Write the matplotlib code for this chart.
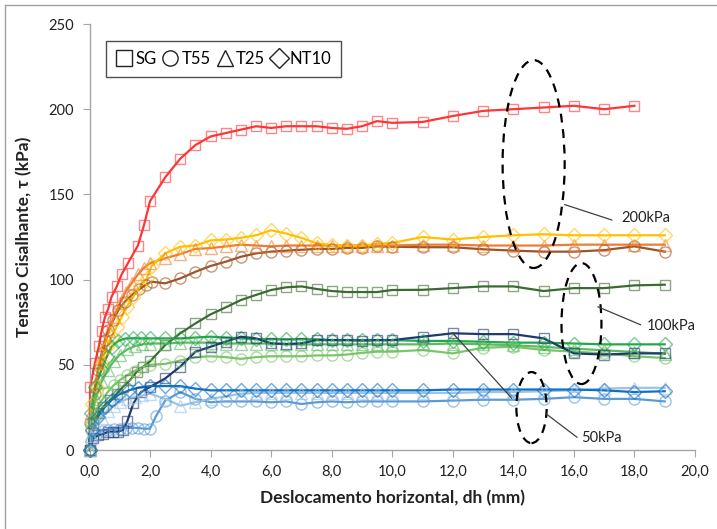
import matplotlib
matplotlib.use("Agg")
import matplotlib.pyplot as plt
from matplotlib.patches import Ellipse
from matplotlib.lines import Line2D
import numpy as np

plt.rcParams['font.family'] = ['Lato', 'DejaVu Sans']

# ---------------- data ----------------
late_x = [2.5, 3.0, 3.5, 4.0, 4.5, 5.0, 5.5, 6.0, 6.5, 7.0, 7.5, 8.0, 8.5, 9.0, 9.5,
          10, 11, 12, 13, 14, 15, 16, 17, 18, 19]

# 200 kPa
sg200_x = [0, 0.02, 0.18, 0.31, 0.4, 0.51, 0.62, 0.73, 0.9, 1.06, 1.28, 1.6, 1.8, 2.0, 2.5, 3.0,
           3.5, 4.0, 4.5, 5.0, 5.5, 6.0, 6.5, 7.0, 7.5, 8.0, 8.5, 9.0, 9.5, 10, 11, 12, 13, 14,
           15, 16, 17, 18]
sg200_y = [0, 37, 51, 61, 70, 78, 83, 90, 96, 103, 110, 120, 132, 146, 160, 171,
           179, 184, 186, 188, 190, 189, 190, 190, 190, 189, 188.5, 190, 193, 192, 192.5, 196, 199, 200,
           201, 202, 200, 202]

t55_200_x = [0, 0.02, 0.18, 0.29, 0.4, 0.51, 0.62, 0.79, 0.95, 1.17, 1.4, 1.64, 1.85, 2.05] + late_x
t55_200_y = [0, 16, 33, 47, 56.7, 64.5, 70.4, 76.3, 82, 87, 91, 94.3, 96.8, 98.8,
             97.8, 100.7, 104.6, 108, 110.5, 113.4, 115.4, 116.4, 117, 117.5, 118, 118, 118.6, 118.6, 119.5,
             119.3, 119, 119, 117.8, 117, 116.4, 116.4, 117.3, 119.5, 116.4]

t25_200_x = [0, 0.05, 0.2, 0.35, 0.5, 0.65, 0.8, 1.0, 1.2, 1.4, 1.6, 1.8, 2.0] + late_x
t25_200_y = [0, 22, 40, 52, 62, 70, 78, 86, 93, 98, 103, 107, 109.6,
             112.5, 115, 118, 118.5, 119.5, 120.5, 120, 119.5, 120, 120, 120, 120, 120, 120, 120,
             120, 120.5, 120.5, 120, 120, 120, 120.5, 120.5, 120.5, 120.5]

nt10_200_x = [0, 0.07, 0.24, 0.4, 0.57, 0.73, 0.9, 1.06, 1.23, 1.45, 1.67, 1.89, 2.05] + late_x
nt10_200_y = [0, 27, 37, 51, 60.6, 66.5, 72.4, 78, 84, 90, 96, 100.7, 108,
              115.4, 119.3, 120, 123, 123.5, 124.5, 126, 129, 127, 124.5, 121.3, 120.3, 120, 120, 121,
              121.5, 125, 123.5, 125, 126, 126.6, 126, 126, 126, 126]

# 100 kPa
sg100_x = [0, 0.13, 0.29, 0.46, 0.68, 0.9, 1.1, 1.34, 1.56, 1.78, 2.0] + late_x
sg100_y = [0, 15.6, 21.5, 25.4, 29.3, 33, 37, 41, 46, 48.9, 52,
           61.6, 68.5, 74.3, 79.6, 83.7, 88, 91, 93.9, 95.5, 96, 94.5, 93.3, 92.7, 92.7, 92.7,
           93.9, 94, 95, 96, 96, 93.3, 95, 95, 96.6, 97]

nt10_100_x = [0, 0.05, 0.18, 0.4, 0.57, 0.73, 0.95, 1.17, 1.45, 1.7, 2.0] + late_x
nt10_100_y = [0, 22, 37, 47, 54.8, 60.6, 64, 65.4, 65.6, 65.5, 65.5,
              65.5, 65.5, 66, 66.5, 66, 65.5, 65, 65, 65, 65, 65, 64.5, 64.5, 64.5, 64.5,
              64.5, 64, 64, 63.5, 63, 63, 62.5, 62, 62, 62]

t25_100_x = [0, 0.05, 0.2, 0.4, 0.6, 0.8, 1.0, 1.25, 1.5, 1.75, 2.0] + late_x
t25_100_y = [0, 18, 30, 40, 47, 52, 56, 59, 61, 62, 62.5,
             62.5, 63, 63, 63, 62.5, 62.5, 62.5, 62.5, 62, 62, 62, 62, 62, 62, 62,
             62, 62, 62.5, 62, 61.5, 60.5, 59.5, 58.5, 57.5, 56.5]

t55_100_x = [0, 0.05, 0.2, 0.4, 0.6, 0.8, 1.0, 1.25, 1.5, 1.75, 2.0] + late_x
t55_100_y = [0, 12, 22, 29, 34, 38, 41, 44, 46.5, 48.5, 50,
             50.5, 52.5, 54.5, 55, 54.5, 53.5, 54.5, 55, 55, 55, 55.5, 55.5, 56, 57, 57.7,
             57.7, 58.7, 56.7, 60, 60.6, 58.7, 57.7, 56.7, 55, 54]

# 50 kPa
sg50_x = [0, 0.13, 0.29, 0.46, 0.62, 0.79, 0.95, 1.1, 1.25, 1.45, 1.7, 2.0] + late_x
sg50_y = [0, 6.8, 8.8, 9.4, 10.8, 10.8, 10.8, 11.7, 17, 27.4, 34, 37,
          42, 49, 57.7, 60.6, 63.6, 66.5, 65.5, 62.6, 62.2, 62.6, 64.5, 64.5, 64.5, 64.2, 64.5,
          64.5, 66.5, 68.5, 68, 68, 65.5, 56.7, 56, 56.7, 56.7]

nt10_50_x = [0, 0.07, 0.29, 0.5, 0.73, 0.95, 1.3, 1.6, 2.0] + late_x
nt10_50_y = [0, 11.7, 19.6, 25, 29.3, 32.3, 35, 36.5, 37.5,
             37.5, 37.5, 36, 35, 35, 35, 35, 35, 35, 35, 35, 35, 35, 35, 35,
             35, 35, 35.5, 35.5, 35.5, 35.5, 35.5, 35, 34, 34.5]

t25_50_x = [0, 0.05, 0.2, 0.4, 0.6, 0.8, 1.0, 1.25, 1.5, 1.75, 2.0] + late_x
t25_50_y = [0, 8, 14, 19, 23, 26, 28, 30, 31, 32, 33,
            30, 26, 28, 30, 31.5, 33, 33.5, 33.5, 33.5, 33.5, 33.5, 33.5, 33.5, 33.5, 33.5,
            33.5, 33.5, 33.5, 34, 34, 34.5, 35, 36, 36.5, 36.5]

t55_50_x = [0, 0.05, 0.2, 0.4, 0.6, 0.8, 1.0, 1.2, 1.4, 1.6, 1.8, 2.0, 2.2] + late_x
t55_50_y = [0, 5, 9, 11, 12, 12.5, 12.5, 13, 13, 13, 12.5, 12.5, 20,
            29, 34, 30, 28, 28.5, 28.5, 28.5, 28, 28.5, 27, 28, 28.5, 28, 28.5, 28.5,
            28.5, 28.5, 29, 29.5, 29.5, 30, 31, 30, 30, 28.5]

series = [
    (sg200_x, sg200_y, '#FF3535', 's'),
    (t55_200_x, t55_200_y, '#9E5428', 'o'),
    (t25_200_x, t25_200_y, '#EE7D33', '^'),
    (nt10_200_x, nt10_200_y, '#FFC000', 'D'),
    (sg100_x, sg100_y, '#3C6B32', 's'),
    (t55_100_x, t55_100_y, '#7CC46A', 'o'),
    (t25_100_x, t25_100_y, '#5DBB63', '^'),
    (nt10_100_x, nt10_100_y, '#22A84B', 'D'),
    (sg50_x, sg50_y, '#1F3A70', 's'),
    (t55_50_x, t55_50_y, '#5B9BD5', 'o'),
    (t25_50_x, t25_50_y, '#9DC3E6', '^'),
    (nt10_50_x, nt10_50_y, '#1070C4', 'D'),
]

legend_labels = ['SG', 'T55', 'T25', 'NT10']
legend_markers = ['s', 'o', '^', 'D']

# ---------------- figure ----------------
fig = plt.figure(figsize=(7.17, 5.29), dpi=100)
ax = fig.add_axes([89.5 / 717, 79 / 529, (695 - 89.5) / 717, (450 - 24) / 529])

msize = {'s': 7.5, 'o': 8, '^': 8, 'D': 7}
for xs, ys, c, m in series:
    ax.plot(xs, ys, color=c, lw=1.6, zorder=2, clip_on=False)
    ax.plot(xs, ys, ls='none', marker=m, ms=msize[m], mfc='none', mec=c, mew=1.0,
            alpha=0.6, zorder=3, clip_on=False)

ax.set_xlim(0, 20)
ax.set_ylim(0, 250)
ax.set_xticks(np.arange(0, 21, 2))
ax.set_xticklabels([f"{v:.1f}".replace('.', ',') for v in np.arange(0, 21, 2)])
ax.set_yticks(np.arange(0, 251, 50))
for s in ['top', 'right']:
    ax.spines[s].set_visible(False)
for s in ['left', 'bottom']:
    ax.spines[s].set_color('#A6A6A6')
    ax.spines[s].set_linewidth(1.0)
ax.tick_params(axis='both', direction='out', length=5, color='#A6A6A6', labelsize=10.5,
               labelcolor='#222222', pad=6)

ax.set_xlabel('Deslocamento horizontal, dh (mm)', fontsize=12.5, fontweight='bold',
              color='#222222', labelpad=8)
ax.set_ylabel('Tensão Cisalhante, τ (kPa)', fontsize=12.5, fontweight='bold',
              color='#222222', labelpad=12)

# ellipses and annotations
ell_kw = dict(fill=False, ls=(0, (4, 3)), lw=1.6, edgecolor='black', zorder=5)
ax.add_patch(Ellipse((14.67, 167.8), 2.05, 122, **ell_kw))
ax.add_patch(Ellipse((16.25, 74.2), 1.32, 71, **ell_kw))
ax.add_patch(Ellipse((14.6, 24.9), 1.0, 41.7, **ell_kw))

line_kw = dict(color='#404040', lw=0.9, zorder=5)
ax.plot([15.7, 17.25], [144, 135], **line_kw)
ax.text(17.58, 136, '200kPa', fontsize=10.5, va='center', ha='left', color='#222222')
ax.plot([16.8, 18.2], [84, 73.5], **line_kw)
ax.text(18.4, 72.5, '100kPa', fontsize=10.5, va='center', ha='left', color='#222222')
ax.plot([15.1, 16.1], [21, 7.5], **line_kw)
ax.plot([12.0, 13.94], [68.6, 30.5], **line_kw)
ax.text(16.25, 7, '50kPa', fontsize=10.5, va='center', ha='left', color='#222222')

# legend
handles = [Line2D([], [], ls='none', marker=m, ms=11 if m != 'D' else 10, mfc='none',
                  mec='#222222', mew=1.0) for m in legend_markers]
leg = ax.legend(handles, legend_labels, loc='upper left', ncol=4,
                bbox_to_anchor=(0.027, 0.96), fontsize=12,
                frameon=True, fancybox=False, edgecolor='#222222', borderpad=0.6,
                borderaxespad=0, handletextpad=0.15, columnspacing=0.35, handlelength=1.0)
leg.get_frame().set_linewidth(1.0)

# figure border
fig.add_artist(Line2D([5 / 717, 5 / 717], [0, 1 - 5 / 529], transform=fig.transFigure,
                      color='#A0A0A0', lw=1))
fig.add_artist(Line2D([5 / 717, 1], [1 - 5 / 529, 1 - 5 / 529], transform=fig.transFigure,
                      color='#A0A0A0', lw=1))

fig.savefig('out.png', dpi=100)
